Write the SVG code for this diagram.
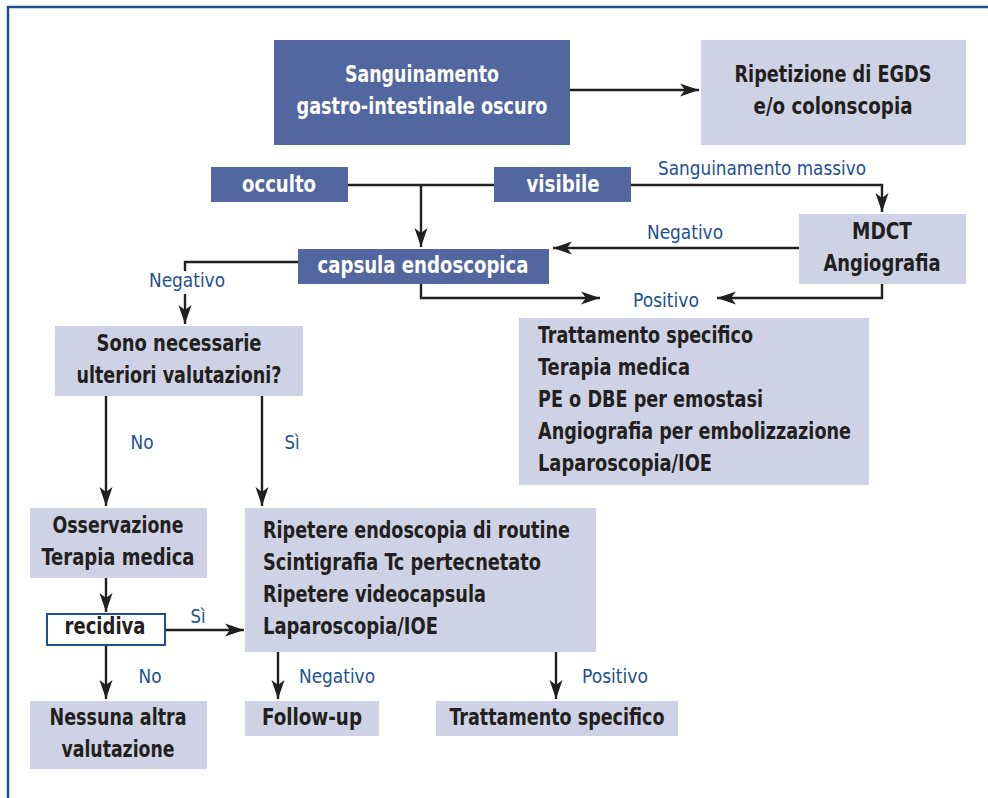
<svg xmlns="http://www.w3.org/2000/svg" width="988" height="798" viewBox="0 0 988 798">
<defs>
<style>
.dk{fill:#5266a0}
.lt{fill:#cfd2e5}
.bw{font-family:"Liberation Sans Narrow","DejaVu Sans Condensed","Arial Narrow",sans-serif;font-weight:bold;font-size:23px;font-stretch:condensed}
.w{fill:#ffffff}
.k{fill:#231f20}
.lb{font-family:"Liberation Sans Narrow","DejaVu Sans Condensed","Arial Narrow",sans-serif;font-size:20px;fill:#1d4f91;font-stretch:condensed}
.c{text-anchor:middle}
.ln{fill:none;stroke:#231f20;stroke-width:2.4}
</style>
<marker id="ah" markerUnits="userSpaceOnUse" markerWidth="24" markerHeight="16" viewBox="-20 -8 22 16" refX="0" refY="0" orient="auto">
<path d="M0,0 L-19,-6.5 L-14,0 L-19,6.5 Z" fill="#231f20"/>
</marker>
</defs>
<rect width="988" height="798" fill="#ffffff"/>
<path d="M8,798 V7 H988" fill="none" stroke="#1d4f91" stroke-width="2.5"/>

<g id="connectors">
<path class="ln" d="M570,90 H699" marker-end="url(#ah)"/>
<path class="ln" d="M348,185 H494"/>
<path class="ln" d="M421,185 V247" marker-end="url(#ah)"/>
<path class="ln" d="M631,185 H882 V212" marker-end="url(#ah)"/>
<path class="ln" d="M799,248 H553" marker-end="url(#ah)"/>
<path class="ln" d="M421,284 V298 H600" marker-end="url(#ah)"/>
<path class="ln" d="M882,283 V298 H717" marker-end="url(#ah)"/>
<path class="ln" d="M298,262 H185 V271"/>
<path class="ln" d="M185,294 V324" marker-end="url(#ah)"/>
<path class="ln" d="M106,396 V506" marker-end="url(#ah)"/>
<path class="ln" d="M262,396 V506" marker-end="url(#ah)"/>
<path class="ln" d="M106,578 V612" marker-end="url(#ah)"/>
<path class="ln" d="M106,646 V699" marker-end="url(#ah)"/>
<path class="ln" d="M165,630 H244" marker-end="url(#ah)"/>
<path class="ln" d="M278,652 V699" marker-end="url(#ah)"/>
<path class="ln" d="M556,652 V699" marker-end="url(#ah)"/>
<text class="lb c" x="762" y="175" textLength="208" lengthAdjust="spacingAndGlyphs">Sanguinamento massivo</text>
<text class="lb c" x="685" y="239" textLength="76" lengthAdjust="spacingAndGlyphs">Negativo</text>
<text class="lb c" x="666" y="307" textLength="66" lengthAdjust="spacingAndGlyphs">Positivo</text>
<text class="lb c" x="187" y="287" textLength="76" lengthAdjust="spacingAndGlyphs">Negativo</text>
<text class="lb c" x="142" y="449" textLength="23" lengthAdjust="spacingAndGlyphs">No</text>
<text class="lb c" x="292" y="449" textLength="15" lengthAdjust="spacingAndGlyphs">Sì</text>
<text class="lb c" x="198" y="623" textLength="15" lengthAdjust="spacingAndGlyphs">Sì</text>
<text class="lb c" x="150" y="683" textLength="23" lengthAdjust="spacingAndGlyphs">No</text>
<text class="lb" x="299" y="683" textLength="76" lengthAdjust="spacingAndGlyphs">Negativo</text>
<text class="lb" x="582" y="683" textLength="66" lengthAdjust="spacingAndGlyphs">Positivo</text>
</g>

<g id="sanguinamento">
<rect class="dk" x="274" y="40" width="296" height="105"/>
<text class="bw w c" x="422" y="82" textLength="154" lengthAdjust="spacingAndGlyphs">Sanguinamento</text>
<text class="bw w c" x="422" y="114" textLength="251" lengthAdjust="spacingAndGlyphs">gastro-intestinale oscuro</text>
</g>
<g id="ripetizione">
<rect class="lt" x="701" y="40" width="265" height="105"/>
<text class="bw k c" x="833" y="82" textLength="197" lengthAdjust="spacingAndGlyphs">Ripetizione di EGDS</text>
<text class="bw k c" x="833" y="114" textLength="159" lengthAdjust="spacingAndGlyphs">e/o colonscopia</text>
</g>
<g id="occulto">
<rect class="dk" x="211" y="167" width="137" height="35"/>
<text class="bw w c" x="279" y="192" textLength="74" lengthAdjust="spacingAndGlyphs">occulto</text>
</g>
<g id="visibile">
<rect class="dk" x="494" y="167" width="137" height="35"/>
<text class="bw w c" x="563" y="192" textLength="73" lengthAdjust="spacingAndGlyphs">visibile</text>
</g>
<g id="capsula">
<rect class="dk" x="298" y="249" width="251" height="35"/>
<text class="bw w c" x="423" y="273" textLength="211" lengthAdjust="spacingAndGlyphs">capsula endoscopica</text>
</g>
<g id="mdct">
<rect class="lt" x="799" y="214" width="167" height="70"/>
<text class="bw k c" x="882" y="239" textLength="60" lengthAdjust="spacingAndGlyphs">MDCT</text>
<text class="bw k c" x="882" y="271" textLength="117" lengthAdjust="spacingAndGlyphs">Angiografia</text>
</g>
<g id="trattamento-positivo">
<rect class="lt" x="519" y="318" width="350" height="167"/>
<text class="bw k" x="538" y="343" textLength="215" lengthAdjust="spacingAndGlyphs">Trattamento specifico</text>
<text class="bw k" x="538" y="375" textLength="152" lengthAdjust="spacingAndGlyphs">Terapia medica</text>
<text class="bw k" x="538" y="407" textLength="225" lengthAdjust="spacingAndGlyphs">PE o DBE per emostasi</text>
<text class="bw k" x="538" y="439" textLength="313" lengthAdjust="spacingAndGlyphs">Angiografia per embolizzazione</text>
<text class="bw k" x="538" y="471" textLength="174" lengthAdjust="spacingAndGlyphs">Laparoscopia/IOE</text>
</g>
<g id="sono-necessarie">
<rect class="lt" x="55" y="326" width="248" height="70"/>
<text class="bw k c" x="179" y="351" textLength="165" lengthAdjust="spacingAndGlyphs">Sono necessarie</text>
<text class="bw k c" x="179" y="383" textLength="205" lengthAdjust="spacingAndGlyphs">ulteriori valutazioni?</text>
</g>
<g id="osservazione">
<rect class="lt" x="30" y="508" width="177" height="70"/>
<text class="bw k c" x="118" y="533" textLength="131" lengthAdjust="spacingAndGlyphs">Osservazione</text>
<text class="bw k c" x="118" y="565" textLength="153" lengthAdjust="spacingAndGlyphs">Terapia medica</text>
</g>
<g id="ripetere">
<rect class="lt" x="245" y="508" width="351" height="144"/>
<text class="bw k" x="263" y="538" textLength="307" lengthAdjust="spacingAndGlyphs">Ripetere endoscopia di routine</text>
<text class="bw k" x="263" y="570" textLength="278" lengthAdjust="spacingAndGlyphs">Scintigrafia Tc pertecnetato</text>
<text class="bw k" x="263" y="602" textLength="223" lengthAdjust="spacingAndGlyphs">Ripetere videocapsula</text>
<text class="bw k" x="263" y="634" textLength="175" lengthAdjust="spacingAndGlyphs">Laparoscopia/IOE</text>
</g>
<g id="recidiva">
<rect x="47" y="614" width="118" height="31" fill="#ffffff" stroke="#1d4f91" stroke-width="2"/>
<text class="bw k c" x="105" y="634" textLength="81" lengthAdjust="spacingAndGlyphs">recidiva</text>
</g>
<g id="nessuna">
<rect class="lt" x="30" y="701" width="177" height="68"/>
<text class="bw k c" x="118" y="725" textLength="137" lengthAdjust="spacingAndGlyphs">Nessuna altra</text>
<text class="bw k c" x="118" y="757" textLength="113" lengthAdjust="spacingAndGlyphs">valutazione</text>
</g>
<g id="follow-up">
<rect class="lt" x="245" y="701" width="134" height="35"/>
<text class="bw k c" x="312" y="725" textLength="100" lengthAdjust="spacingAndGlyphs">Follow-up</text>
</g>
<g id="trattamento-specifico">
<rect class="lt" x="436" y="701" width="242" height="35"/>
<text class="bw k c" x="557" y="725" textLength="215" lengthAdjust="spacingAndGlyphs">Trattamento specifico</text>
</g>
</svg>
